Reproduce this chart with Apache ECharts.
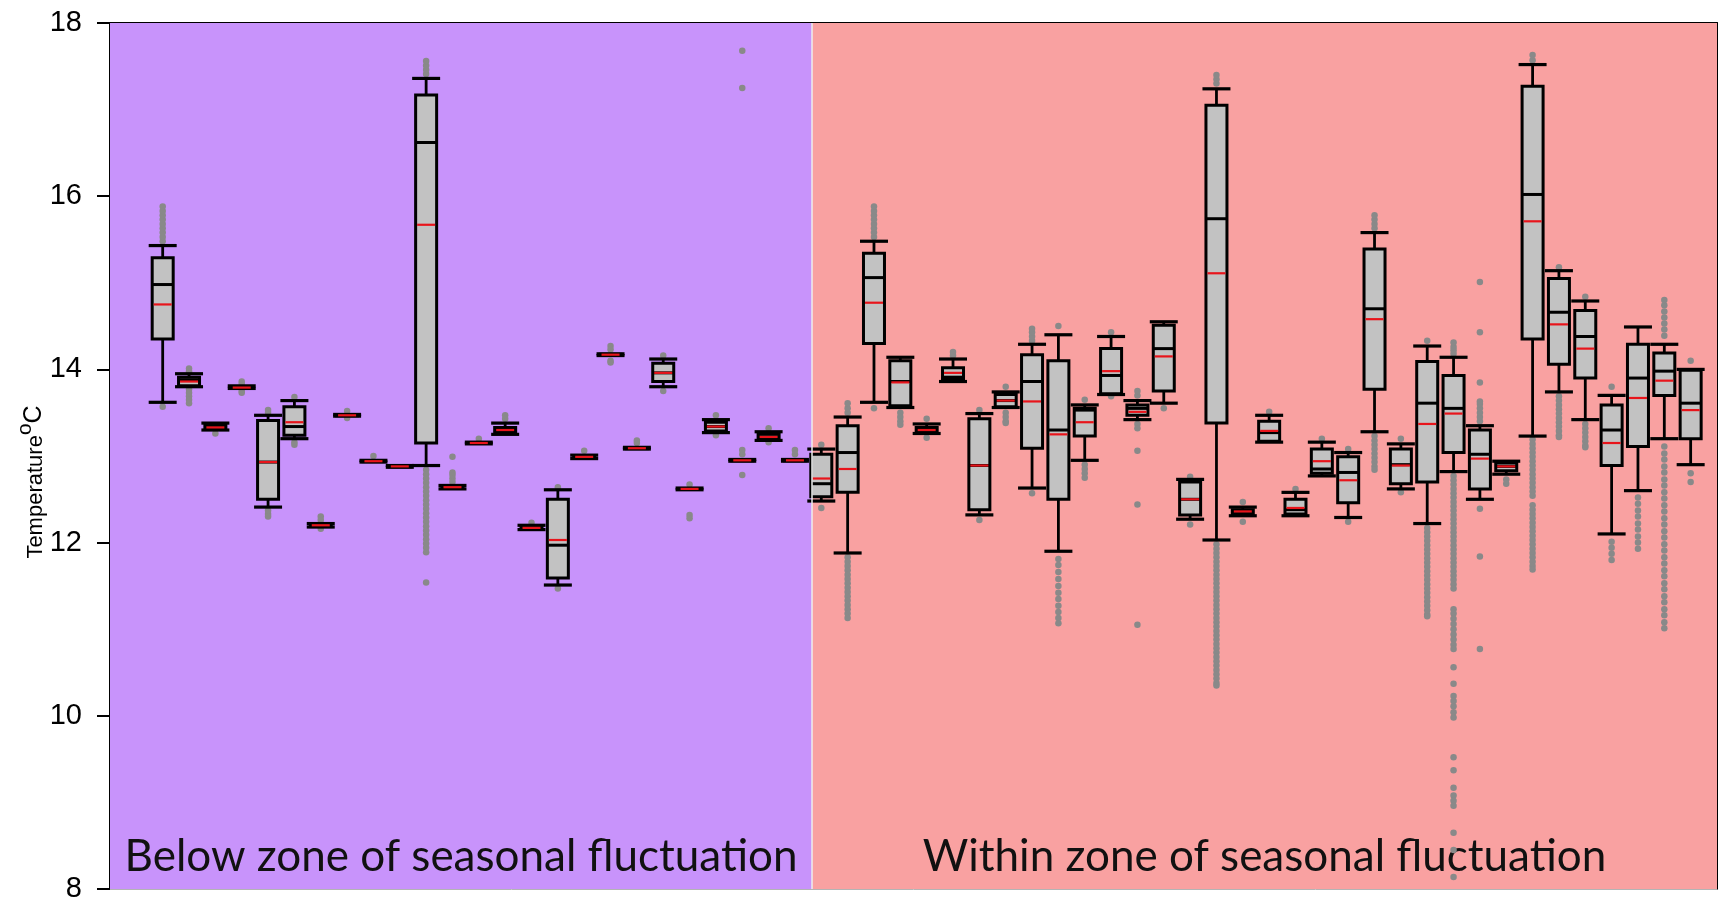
<!DOCTYPE html>
<html>
<head>
<meta charset="utf-8">
<script src="https://cdn.jsdelivr.net/npm/echarts@6/dist/echarts.min.js"></script>
<style>
html,body{margin:0;padding:0;background:#fff;}
#chart{width:1721px;height:904px;}
</style>
</head>
<body>
<div id="chart"></div>
<script>
// ---- data (°C), one entry per box, left to right ----
const whiskerLow = [13.62,13.80,13.30,13.78,12.41,13.20,12.18,13.46,12.93,12.87,12.89,12.62,13.14,13.25,12.15,11.51,12.97,14.16,13.08,13.80,12.61,13.27,12.94,13.18,12.94,
  12.48,11.88,13.62,13.56,13.26,13.86,12.32,13.56,12.63,11.90,12.95,13.71,13.42,13.61,12.27,12.03,12.31,13.16,12.31,12.77,12.29,13.28,12.62,12.22,12.82,12.50,12.79,13.23,13.74,13.42,12.10,12.60,13.20,12.90];
const q1 = [14.35,13.81,13.31,13.785,12.50,13.24,12.185,13.465,12.935,12.875,13.15,12.63,13.145,13.27,12.16,11.59,12.98,14.165,13.085,13.86,12.615,13.29,12.945,13.19,12.945,
  12.53,12.58,14.30,13.58,13.27,13.89,12.38,13.57,13.09,12.50,13.23,13.72,13.47,13.75,12.32,13.38,12.33,13.17,12.33,12.80,12.46,13.77,12.68,12.70,13.04,12.62,12.83,14.35,14.06,13.90,12.89,13.11,13.70,13.20];
const median = [14.98,13.88,13.33,13.79,12.93,13.34,12.20,13.47,12.94,12.88,16.62,12.64,13.15,13.30,12.17,11.97,12.99,14.17,13.09,13.96,12.62,13.34,12.95,13.22,12.95,
  12.68,13.04,15.06,13.86,13.30,13.91,12.89,13.64,13.86,13.30,13.53,13.93,13.55,14.24,12.50,15.74,12.36,13.27,12.38,12.85,12.81,14.70,12.90,13.61,13.55,13.02,12.88,16.02,14.66,14.38,13.30,13.90,13.98,13.61];
const mean = [14.75,13.86,13.33,13.79,12.93,13.39,12.20,13.47,12.94,12.88,15.67,12.64,13.15,13.30,12.17,12.03,12.99,14.17,13.09,13.96,12.62,13.34,12.95,13.22,12.95,
  12.74,12.85,14.77,13.85,13.30,13.96,12.89,13.64,13.63,13.25,13.39,13.98,13.51,14.15,12.50,15.11,12.36,13.29,12.40,12.94,12.72,14.58,12.89,13.37,13.49,12.97,12.88,15.71,14.52,14.24,13.15,13.67,13.87,13.53];
const q3 = [15.29,13.91,13.36,13.80,13.41,13.57,12.215,13.475,12.945,12.885,17.17,12.65,13.155,13.33,12.19,12.50,13.00,14.175,13.095,14.07,12.625,13.39,12.955,13.25,12.955,
  13.02,13.35,15.34,14.10,13.33,14.02,13.43,13.71,14.17,14.10,13.55,14.24,13.59,14.51,12.70,17.05,12.38,13.40,12.50,13.08,12.99,15.39,13.08,14.09,13.93,13.30,12.92,17.27,15.05,14.68,13.59,14.29,14.19,13.99];
const whiskerHigh = [15.43,13.95,13.38,13.81,13.47,13.64,12.22,13.48,12.95,12.89,17.36,12.66,13.16,13.38,12.20,12.61,13.01,14.18,13.10,14.12,12.63,13.42,12.96,13.28,12.96,
  13.08,13.45,15.48,14.14,13.37,14.12,13.49,13.74,14.29,14.40,13.59,14.38,13.64,14.55,12.73,17.24,12.41,13.47,12.58,13.16,13.04,15.58,13.14,14.27,14.14,13.35,12.94,17.52,15.14,14.79,13.70,14.49,14.29,14.00];
const outliers = [
  [15.48,15.53,15.58,15.63,15.68,15.73,15.78,15.83,15.88,13.57],
  [13.98,14.01,13.77,13.73,13.69,13.65,13.61],
  [13.26],
  [13.86,13.83,13.75,13.73],
  [13.50,13.53,12.37,12.33,12.30],
  [13.68,13.16,13.13],
  [12.30,12.26,12.16],
  [13.52,13.44],
  [13.00],
  [],
  [17.41,17.46,17.51,17.56,12.84,12.79,12.74,12.69,12.64,12.59,12.54,12.49,12.44,12.39,12.34,12.29,12.24,12.19,12.14,12.09,12.04,11.99,11.94,11.89,11.54],
  [12.70,12.74,12.78,12.81,12.99],
  [13.20],
  [13.43,13.47],
  [12.23],
  [12.64,11.47],
  [13.06],
  [14.27,14.23,14.10,14.08],
  [13.15,13.18],
  [14.16,13.75],
  [12.67,12.32,12.28],
  [13.47,13.24],
  [13.02,13.07,12.78,17.25,17.68],
  [13.32,13.16],
  [13.02,13.07],
  [13.13,12.40],
  [13.50,13.55,13.61,11.83,11.78,11.73,11.68,11.63,11.58,11.53,11.48,11.43,11.38,11.33,11.28,11.23,11.18,11.13],
  [15.53,15.58,15.63,15.68,15.73,15.78,15.83,15.88,13.55],
  [13.50,13.45,13.40,13.36],
  [13.43,13.21],
  [14.16,14.20],
  [13.53,12.26],
  [13.80,13.50,13.45,13.40,13.38],
  [14.33,14.38,14.43,14.47,12.57],
  [14.50,11.81,11.74,11.66,11.58,11.50,11.42,11.35,11.27,11.20,11.13,11.07],
  [13.65,12.90,12.85,12.80,12.75],
  [14.43,13.69],
  [13.70,13.75,13.37,13.32,13.06,12.44,11.05],
  [13.55],
  [12.76,12.21],
  [17.30,17.35,17.40,11.98,11.93,11.88,11.83,11.78,11.73,11.68,11.63,11.58,11.53,11.48,11.43,11.38,11.33,11.28,11.23,11.18,11.13,11.08,11.03,10.98,10.93,10.88,10.83,10.78,10.73,10.68,10.63,10.58,10.53,10.48,10.43,10.38,10.35],
  [12.47,12.24],
  [13.51],
  [12.62],
  [13.20],
  [13.08,12.24],
  [15.63,15.68,15.73,15.78,13.23,13.18,13.13,13.08,13.03,12.98,12.93,12.88,12.84],
  [13.20,12.58],
  [14.33,12.17,12.12,12.07,12.02,11.97,11.92,11.87,11.82,11.77,11.72,11.67,11.62,11.57,11.52,11.47,11.42,11.37,11.32,11.27,11.22,11.17,11.15],
  [14.18,14.22,14.26,14.31,12.77,12.72,12.67,12.62,12.57,12.52,12.47,12.42,12.37,12.32,12.27,12.22,12.17,12.12,12.07,12.02,11.97,11.92,11.87,11.82,11.77,11.72,11.67,11.62,11.57,11.52,11.47,
   11.23,11.18,11.12,11.06,11.00,10.94,10.88,10.82,10.77,10.56,10.37,10.23,10.17,10.11,10.04,9.98,9.52,9.37,9.17,9.08,9.02,8.96,8.65,8.45,8.14],
  [13.40,13.45,13.50,13.55,13.60,13.63,13.85,14.43,15.01,12.39,11.84,10.77],
  [12.73,12.68],
  [17.57,17.63,13.19,13.14,13.09,13.04,12.99,12.94,12.89,12.84,12.79,12.74,12.69,12.64,12.59,12.54,12.43,12.38,12.33,12.28,12.23,12.18,12.13,12.08,12.03,11.98,11.93,11.88,11.83,11.78,11.73,11.69],
  [15.18,13.69,13.64,13.59,13.54,13.49,13.44,13.39,13.34,13.29,13.24,13.22],
  [14.84,13.37,13.32,13.27,13.22,13.17,13.12,13.10],
  [13.80,12.01,11.94,11.87,11.80],
  [12.52,12.45,12.37,12.30,12.22,12.15,12.07,12.00,11.93],
  [14.39,14.46,14.53,14.60,14.67,14.74,14.80,13.11,13.03,12.96,12.88,12.81,12.73,12.66,12.58,12.51,12.43,12.36,12.28,12.21,12.13,12.06,11.98,11.91,11.83,11.76,11.68,11.61,11.53,11.46,11.38,11.31,11.23,11.16,11.08,11.01],
  [14.10,12.80,12.70]
];
const zoneNames = ['Below zone of seasonal fluctuation', 'Within zone of seasonal fluctuation'];
const zoneBoundary = 25.65; // between box 25 and box 26
const yTicks = [8, 10, 12, 14, 16, 18];

// ---- build ----
const positions = whiskerLow.map((_, i) => i + 1);
const boxData = positions.map((p, i) => [p, whiskerLow[i], q1[i], median[i], mean[i], q3[i], whiskerHigh[i]]);
const outlierData = [];
outliers.forEach((arr, i) => arr.forEach(v => outlierData.push([positions[i], v])));

const chart = echarts.init(document.getElementById('chart'), null, {renderer: 'canvas'});

function renderBox(params, api) {
  const x = api.value(0);
  const pt = v => api.coord([x, v]);
  const wl = pt(api.value(1)), b1 = pt(api.value(2)), md = pt(api.value(3)),
        mn = pt(api.value(4)), b3 = pt(api.value(5)), wh = pt(api.value(6));
  const cx = wl[0];
  const bw = 21, cw = 28;
  const blk = {stroke: '#000', lineWidth: 2.8};
  return {
    type: 'group',
    children: [
      {type: 'line', shape: {x1: cx, y1: wh[1], x2: cx, y2: b3[1]}, style: blk},
      {type: 'line', shape: {x1: cx, y1: b1[1], x2: cx, y2: wl[1]}, style: blk},
      {type: 'line', shape: {x1: cx - cw / 2, y1: wh[1], x2: cx + cw / 2, y2: wh[1]}, style: {stroke: '#000', lineWidth: 3.2}},
      {type: 'line', shape: {x1: cx - cw / 2, y1: wl[1], x2: cx + cw / 2, y2: wl[1]}, style: {stroke: '#000', lineWidth: 3.2}},
      {type: 'rect', shape: {x: cx - bw / 2, y: b3[1], width: bw, height: b1[1] - b3[1]},
        style: {fill: '#c2c2c2', stroke: '#000', lineWidth: 3}},
      {type: 'line', shape: {x1: cx - bw / 2, y1: md[1], x2: cx + bw / 2, y2: md[1]}, style: {stroke: '#000', lineWidth: 3}},
      {type: 'line', shape: {x1: cx - bw / 2 + 1.5, y1: mn[1], x2: cx + bw / 2 - 1.5, y2: mn[1]}, style: {stroke: '#e8141b', lineWidth: 2.2}}
    ]
  };
}

const option = {
  backgroundColor: '#ffffff',
  animation: false,
  grid: {left: 110, right: 4, top: 23, bottom: 15, containLabel: false},
  xAxis: [
    {type: 'value', min: -1, max: 60, axisLine: {show: true, onZero: false, lineStyle: {color: '#b4b4b4', width: 1}},
      axisTick: {show: false}, axisLabel: {show: false}, splitLine: {show: false}},
    {type: 'value', position: 'top', min: -1, max: 60, axisLine: {show: true, onZero: false, lineStyle: {color: '#000', width: 2}},
      axisTick: {show: false}, axisLabel: {show: false}, splitLine: {show: false}}
  ],
  yAxis: [
    {type: 'value', min: yTicks[0], max: yTicks[yTicks.length - 1], interval: 2,
      axisLine: {show: true, onZero: false, lineStyle: {color: '#000', width: 2}},
      axisTick: {show: true, inside: false, length: 13, lineStyle: {color: '#000', width: 2}},
      axisLabel: {show: true, margin: 28, fontSize: 29, color: '#000', fontFamily: 'Liberation Sans'},
      splitLine: {show: false}},
    {type: 'value', position: 'right', min: 8, max: 18,
      axisLine: {show: true, onZero: false, lineStyle: {color: '#000', width: 2}},
      axisTick: {show: false}, axisLabel: {show: false}, splitLine: {show: false}}
  ],
  graphic: [
    {type: 'text', x: 31, y: 482, rotation: Math.PI / 2,
      style: {text: '{a|Temperature}{b|o}{c|C}', align: 'center', verticalAlign: 'middle',
        rich: {
          a: {fontSize: 22, fontFamily: 'Liberation Sans', fill: '#000', lineHeight: 32, verticalAlign: 'bottom'},
          b: {fontSize: 21, fontFamily: 'Liberation Sans', fill: '#000', lineHeight: 32, verticalAlign: 'top'},
          c: {fontSize: 25, fontFamily: 'Liberation Sans', fill: '#000', lineHeight: 32, verticalAlign: 'bottom'}
        }}}
  ],
  series: [
    {
      type: 'scatter', data: [], z: 1, silent: true,
      markArea: {
        silent: true,
        label: {show: true, position: 'insideBottom', distance: 10, fontSize: 44, fontFamily: 'Lato', color: '#111'},
        data: [
          [{name: zoneNames[0], xAxis: -1, itemStyle: {color: '#c893fb', opacity: 1}}, {xAxis: zoneBoundary}],
          [{name: zoneNames[1], xAxis: zoneBoundary, itemStyle: {color: '#f9a1a1', opacity: 1}}, {xAxis: 60}]
        ]
      },
      markLine: {
        silent: true, symbol: 'none', label: {show: false},
        lineStyle: {color: '#ececec', width: 1.5, type: 'solid'},
        data: [{xAxis: zoneBoundary}]
      }
    },
    {
      type: 'scatter', data: outlierData, z: 2, silent: true,
      symbol: 'circle', symbolSize: 6.5, itemStyle: {color: '#898989', opacity: 1}
    },
    {
      type: 'custom', data: boxData, z: 3, silent: true,
      encode: {x: 0, y: [1, 2, 3, 4, 5, 6]},
      renderItem: renderBox
    }
  ]
};
chart.setOption(option);
</script>
</body>
</html>
